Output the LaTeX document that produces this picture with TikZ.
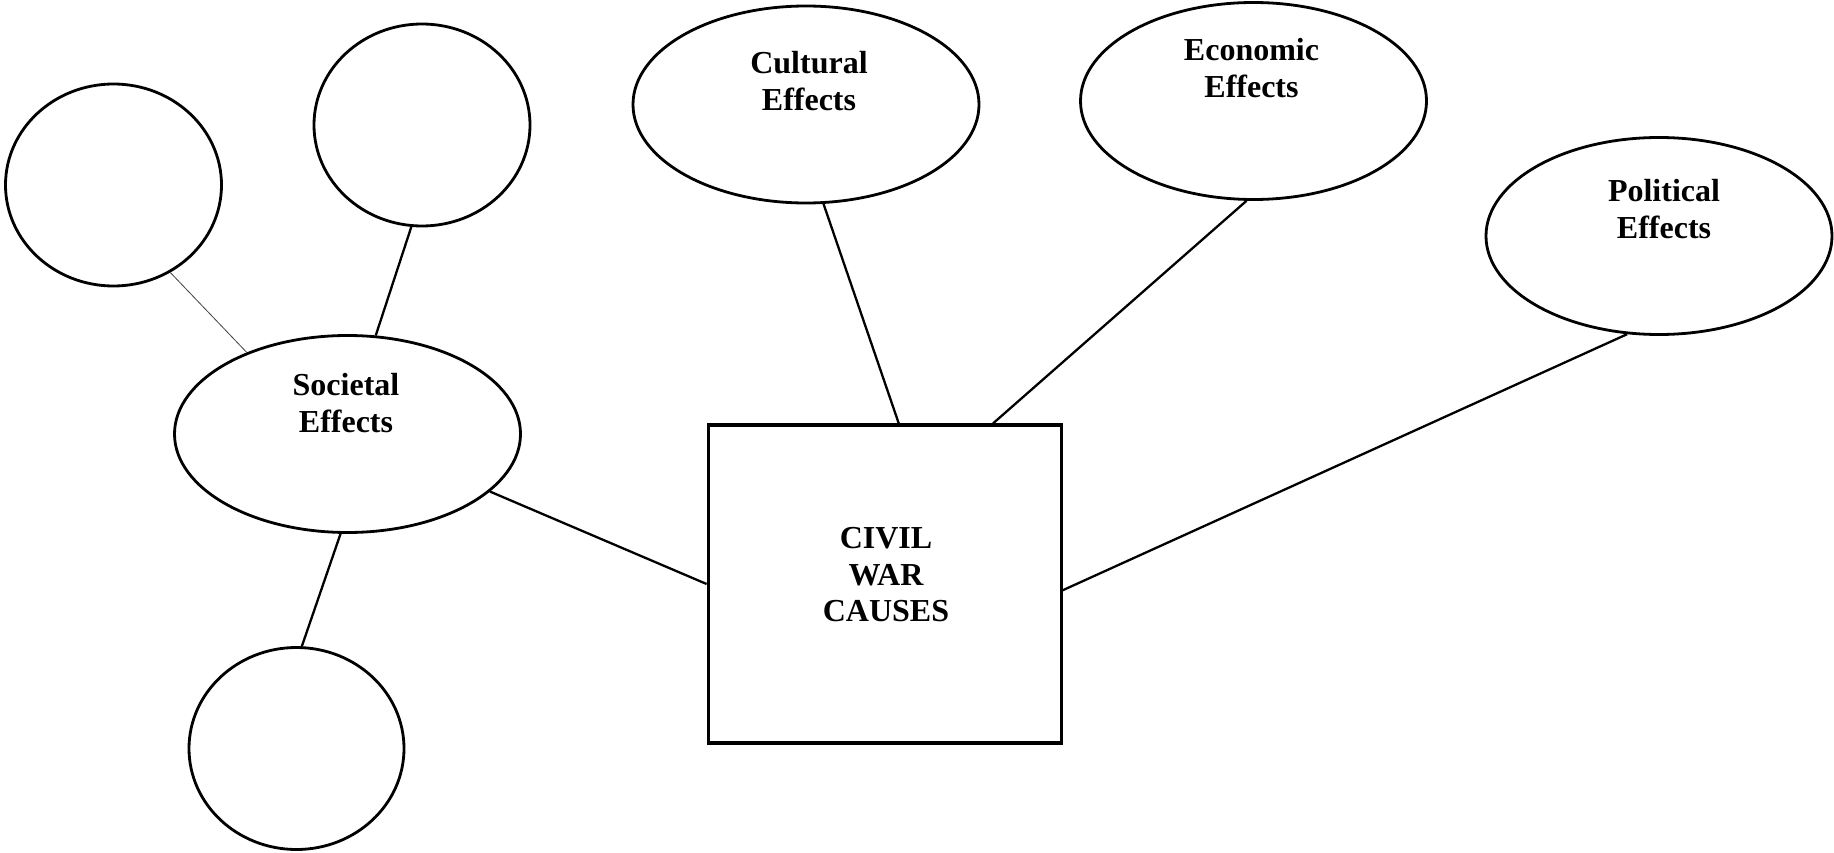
\documentclass[tikz,border=0pt]{standalone}
\usepackage{fontspec}
\setmainfont{Liberation Serif}
\usetikzlibrary{shapes.geometric}
\begin{document}
\begin{tikzpicture}[x=1pt,y=-1pt,
  bubble/.style={draw,ellipse,line width=2.8pt,inner sep=0pt},
  hub/.style={draw,rectangle,line width=3.2pt,inner sep=0pt,
    minimum width=353pt,minimum height=318pt},
  caption/.style={align=center,inner sep=0pt,
    font=\fontsize{32}{36.5}\selectfont\bfseries},
  link/.style={line width=2.3pt},
  faint/.style={line width=0.8pt,draw=black!75}
]
\useasboundingbox (0,0) rectangle (1834,853);

% empty satellite circles
\node[bubble,minimum width=216pt,minimum height=202pt] (blankA) at (113.5,185) {};
\node[bubble,minimum width=216pt,minimum height=202pt] (blankB) at (422,125) {};
\node[bubble,minimum width=215pt,minimum height=202pt] (blankC) at (296.5,748.5) {};

% effect ellipses
\node[bubble,minimum width=346pt,minimum height=197pt] (soc)  at (347.5,434) {};
\node[bubble,minimum width=346pt,minimum height=197pt] (cult) at (806,104.5) {};
\node[bubble,minimum width=346pt,minimum height=197pt] (econ) at (1253.5,101) {};
\node[bubble,minimum width=346pt,minimum height=197pt] (pol)  at (1659,236) {};

% central box
\node[hub] (box) at (884.7,584) {};

% texts
\node[caption] (socT)  at (346,403)    {Societal\\Effects};
\node[caption] (cultT) at (809,81)     {Cultural\\Effects};
\node[caption] (econT) at (1251.5,68.3) {Economic\\Effects};
\node[caption] (polT)  at (1664,209)   {Political\\Effects};
\node[caption] (boxT)  at (886,575)    {CIVIL\\WAR\\CAUSES};

% connectors
\draw[faint] (blankA.-57) -- (soc.141);
\draw[link] (blankB.264) -- (soc.74);
\draw[link] (soc.-94) -- (blankC.87);
\draw[link] (soc.-22) -- (box.west);
\draw[link] (cult.-80) -- (box.85.5);
\draw[link] (econ.-94) -- (box.56);
\draw[link] (pol.-108) -- (box.-2.5);
\end{tikzpicture}
\end{document}
